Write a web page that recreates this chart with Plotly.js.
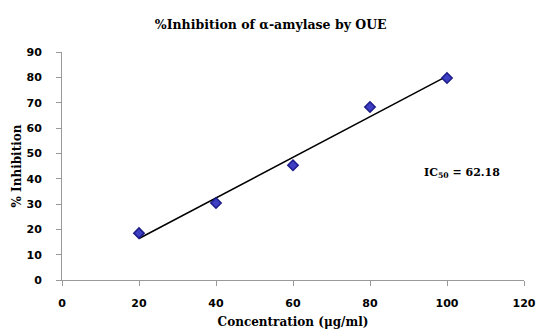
<!DOCTYPE html>
<html>
<head>
<meta charset="utf-8">
<script src="https://cdn.plot.ly/plotly-3.0.1.min.js"></script>
<style>html,body{margin:0;padding:0;background:#fff}#chart{width:536px;height:333px}</style>
</head>
<body>
<div id="chart"></div>
<script>
var concentration = [20, 40, 60, 80, 100];
var inhibition = [18.5, 30.4, 45.3, 68.3, 79.7];
var xTicks = [0, 20, 40, 60, 80, 100, 120];
var yTicks = [0, 10, 20, 30, 40, 50, 60, 70, 80, 90];
var icLabel = "IC<sub>50</sub> = 62.18";

// least-squares trendline from the data
var n = concentration.length, mx = 0, my = 0;
for (var i = 0; i < n; i++) { mx += concentration[i]; my += inhibition[i]; }
mx /= n; my /= n;
var sxy = 0, sxx = 0;
for (var i = 0; i < n; i++) { sxy += (concentration[i]-mx)*(inhibition[i]-my); sxx += (concentration[i]-mx)*(concentration[i]-mx); }
var slope = sxy / sxx, icpt = my - slope * mx;
var fitX = [concentration[0], concentration[n-1]];
var fitY = fitX.map(function(v){ return icpt + slope * v; });

var serif = "DejaVu Serif, Times New Roman, serif";
var tickFont = {family: "DejaVu Sans, Tahoma, sans-serif", size: 11, color: "#000", weight: "bold"};
var titleFont = {family: serif, size: 12, color: "#000", weight: "bold"};

var data = [
  {x: fitX, y: fitY, mode: "lines", line: {color: "#000", width: 1.5}, hoverinfo: "skip", showlegend: false},
  {x: concentration, y: inhibition, mode: "markers", showlegend: false,
   marker: {symbol: "diamond", size: 8, color: "#3f3fc4", line: {color: "#1c1c8a", width: 1.5}}}
];

var layout = {
  width: 536, height: 333,
  margin: {l: 62, r: 12, t: 52, b: 53},
  paper_bgcolor: "#fff", plot_bgcolor: "#fff",
  title: {text: "%Inhibition of α-amylase by OUE", font: {family: serif, size: 12.5, color: "#000", weight: "bold"}, x: 0.505, xanchor: "center", y: 0.925, yanchor: "middle"},
  xaxis: {
    range: [0, 120], tickvals: xTicks, ticktext: xTicks.map(String),
    showgrid: false, zeroline: false, showline: true, linecolor: "#999", linewidth: 1,
    ticks: "outside", ticklen: 5, tickcolor: "#999",
    tickfont: tickFont, ticklabelstandoff: 8,
    automargin: false,
    title: {text: "Concentration (μg/ml)", font: titleFont, standoff: 8}
  },
  yaxis: {
    range: [0, 90], tickvals: yTicks, ticktext: yTicks.map(String),
    showgrid: false, zeroline: false, showline: true, linecolor: "#999", linewidth: 1,
    ticks: "outside", ticklen: 5, tickcolor: "#999",
    tickfont: tickFont, ticklabelstandoff: 12,
    automargin: false,
    title: {text: "% Inhibition", font: titleFont, standoff: 2}
  },
  annotations: [
    {x: 104, y: 42.3, xref: "x", yref: "y", text: icLabel, showarrow: false,
     font: {family: serif, size: 11, color: "#000", weight: "bold"}}
  ]
};

Plotly.newPlot("chart", data, layout, {displayModeBar: false, staticPlot: true});
</script>
</body>
</html>
